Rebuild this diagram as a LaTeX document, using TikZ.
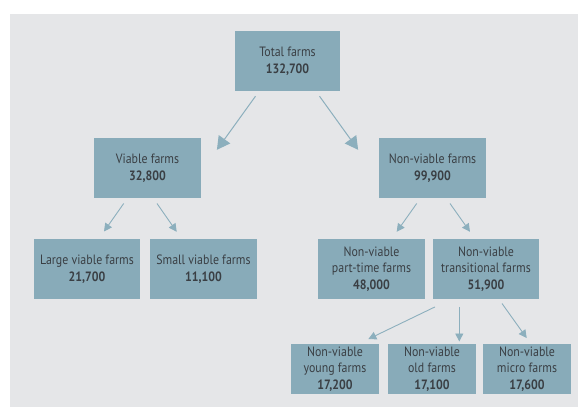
\documentclass[tikz,border=0pt]{standalone}
\usepackage{fontspec}
\setmainfont{PT Sans}[FakeStretch=0.88]
\usetikzlibrary{arrows.meta}
\definecolor{panel}{HTML}{E5E6E8}
\definecolor{boxfill}{HTML}{88ABB9}
\definecolor{arrowc}{HTML}{8CAFBD}
\definecolor{txt}{HTML}{3A3F44}
\begin{document}
\begin{tikzpicture}[x=1pt,y=-1pt,
  box/.style={fill=boxfill, draw=none, text=txt, align=center,
    font=\fontsize{13.5}{16.5}\selectfont, inner sep=0pt},
  bigbox/.style={box, minimum height=60pt},
  smallbox/.style={box, minimum height=50pt, minimum width=88pt},
  bigarrow/.style={draw=arrowc, line width=1pt, -{Triangle[length=13pt,width=14pt]}},
  arrow/.style={draw=arrowc, line width=0.9pt, -{Triangle[length=8pt,width=8pt]}}]
\useasboundingbox (0,0) rectangle (578,407);
\fill[panel] (10,14) rectangle (578,407);
\node[bigbox, minimum width=105pt] (total) at (287.5,61) {Total farms\\\textbf{132,700}};
\node[bigbox, minimum width=107pt] (viable) at (147.5,168) {Viable farms\\\textbf{32,800}};
\node[bigbox, minimum width=107pt] (nonviable) at (432.5,168) {Non-viable farms\\\textbf{99,900}};
\node[bigbox, minimum width=106pt] (large) at (87,269) {Large viable farms\\\textbf{21,700}};
\node[bigbox, minimum width=107pt] (small) at (203.5,269) {Small viable farms\\\textbf{11,100}};
\node[bigbox, minimum width=107pt] (parttime) at (371.5,269) {Non-viable\\part-time farms\\\textbf{48,000}};
\node[bigbox, minimum width=106pt] (trans) at (486,269) {Non-viable\\transitional farms\\\textbf{51,900}};
\node[smallbox] (young) at (335,369) {Non-viable\\young farms\\\textbf{17,200}};
\node[smallbox] (old) at (432,369) {Non-viable\\old farms\\\textbf{17,100}};
\node[smallbox] (micro) at (527,369) {Non-viable\\micro farms\\\textbf{17,600}};
\draw[bigarrow] ([xshift=20.7pt,yshift=-5pt]total.south west) -- ([xshift=15.7pt,yshift=-12pt]viable.north east);
\draw[bigarrow] ([xshift=-20.7pt,yshift=-5pt]total.south east) -- ([xshift=-20.7pt,yshift=-12pt]nonviable.north west);
\draw[arrow] ([xshift=-23.8pt,yshift=-5.3pt]viable.south) -- ([xshift=17pt,yshift=7.3pt]large.north);
\draw[arrow] ([xshift=9.5pt,yshift=-5.3pt]viable.south) -- ([xshift=-26.8pt,yshift=7pt]small.north);
\draw[arrow] ([xshift=-15.8pt,yshift=-5.3pt]nonviable.south) -- ([xshift=25.2pt,yshift=7pt]parttime.north);
\draw[arrow] ([xshift=17.5pt,yshift=-5.3pt]nonviable.south) -- ([xshift=-16pt,yshift=7pt]trans.north);
\draw[arrow] ([xshift=-51pt,yshift=-7.7pt]trans.south) -- ([xshift=33.3pt,yshift=4.7pt]young.north);
\draw[arrow] ([xshift=-26.7pt,yshift=-7.7pt]trans.south) -- ([xshift=27.3pt,yshift=2.3pt]old.north);
\draw[arrow] ([xshift=16pt,yshift=-4.3pt]trans.south) -- ([xshift=-0.3pt,yshift=5.7pt]micro.north);
\end{tikzpicture}
\end{document}
